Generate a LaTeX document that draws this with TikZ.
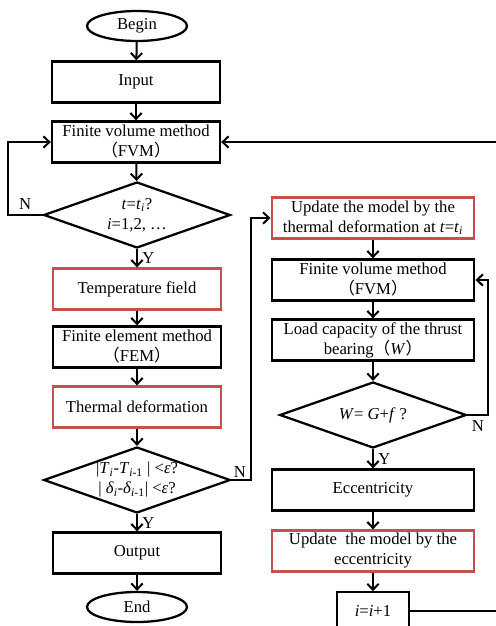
\documentclass[tikz,border=0pt]{standalone}
\usepackage{fontspec}
\setmainfont{Liberation Serif}
\newfontfamily\cjk{Noto Sans CJK SC}
\usetikzlibrary{shapes.geometric,arrows.meta}
\definecolor{boxred}{RGB}{198,80,78}
\newcommand{\itv}[1]{\textit{#1}}
\newcommand{\lpar}{{\cjk （}}
\newcommand{\rpar}{{\cjk ）}}
\tikzset{
  every node/.style={font=\fontsize{12.5}{15}\selectfont},
  process/.style={draw, line width=1.7pt, minimum width=126pt, minimum height=30.75pt, align=center, inner sep=1pt},
  redbox/.style={process, draw=boxred},
  wideproc/.style={process, minimum width=152pt},
  widered/.style={wideproc, draw=boxred},
  terminal/.style={draw, ellipse, line width=1.7pt, minimum width=75pt, minimum height=22.5pt, inner sep=0pt},
  decision/.style={draw, diamond, line width=1.7pt, minimum width=140pt, minimum height=49.5pt, inner sep=0pt},
  flow/.style={line width=1.5pt, -{Straight Barb[length=4.5pt,width=8.5pt]}},
}
\begin{document}
\begin{tikzpicture}[x=0.75pt, y=-0.75pt]
    \useasboundingbox (0,0) rectangle (496,626);
    % left column
    \node[terminal] (begin) at (137,26) {Begin};
    \node[process] (input) at (136,82) {Input};
    \node[process] (fvm) at (136,142) {Finite volume method\\\lpar FVM\rpar};
    \node[decision] (d1) at (137,215) {};
    \node[align=center] at (d1) {\itv{t}=\itv{t}\textsubscript{\itv{i}}?\\\itv{i}=1,2, …};
    \node[redbox] (temp) at (137,289) {Temperature field};
    \node[process] (fem) at (137,347) {Finite element method\\\lpar FEM\rpar};
    \node[redbox] (thdef) at (137,407) {Thermal deformation};
    \node[decision] (d2) at (137,480) {};
    \node[align=center] at (d2) {|\itv{T}\textsubscript{\itv{i}}-\itv{T}\textsubscript{\itv{i}-1} | <\itv{ε}?\\| \itv{δ}\textsubscript{\itv{i}}-\itv{δ}\textsubscript{\itv{i}-1}| <\itv{ε}?};
    \node[process] (output) at (137,553) {Output};
    \node[terminal] (end) at (137,607) {End};
    % right column
    \node[widered] (upd1) at (373,218) {Update the model by the\\thermal deformation at \itv{t}=\itv{t}\textsubscript{\itv{i}}};
    \node[wideproc] (fvm2) at (373,280) {Finite volume method\\\lpar FVM\rpar};
    \node[wideproc] (load) at (373,340) {Load capacity of the thrust\\bearing\lpar\itv{W}\rpar};
    \node[decision] (d3) at (373,415) {};
    \node at (d3) {\itv{W}= \itv{G}+\itv{f} ?};
    \node[wideproc] (ecc) at (373,490) {Eccentricity};
    \node[widered] (upd2) at (373,551) {Update\ \ the model by the\\eccentricity};
    \node[process, minimum width=54pt, minimum height=28pt] (inc) at (373,611) {\itv{i}=\itv{i}+1};
    % main flow
    \draw[flow] (begin) -- (input);
    \draw[flow] (input) -- (fvm);
    \draw[flow] (fvm) -- (d1);
    \draw[flow] (d1) -- node[right] {Y} (temp);
    \draw[flow] (temp) -- (fem);
    \draw[flow] (fem) -- (thdef);
    \draw[flow] (thdef) -- (d2);
    \draw[flow] (d2) -- node[right] {Y} (output);
    \draw[flow] (output) -- (end);
    \draw[flow] (d1.west) -- node[above] {N} ++(-35,0) |- (fvm.west);
    \draw[flow] (d2.east) -- node[above right, pos=0, inner sep=1pt] {N} ++(20,0) |- (upd1.west);
    % update loop
    \draw[flow] (upd1) -- (fvm2);
    \draw[flow] (fvm2) -- (load);
    \draw[flow] (load) -- (d3);
    \draw[flow] (d3) -- node[right] {Y} (ecc);
    \draw[flow] (ecc) -- (upd2);
    \draw[flow] (upd2) -- (inc);
    \draw[flow] (d3.east) -- node[below] {N} ++(21,0) |- (fvm2.east);
    \draw[flow] (inc.east) -- ++(95,0) |- (fvm.east);
\end{tikzpicture}
\end{document}
